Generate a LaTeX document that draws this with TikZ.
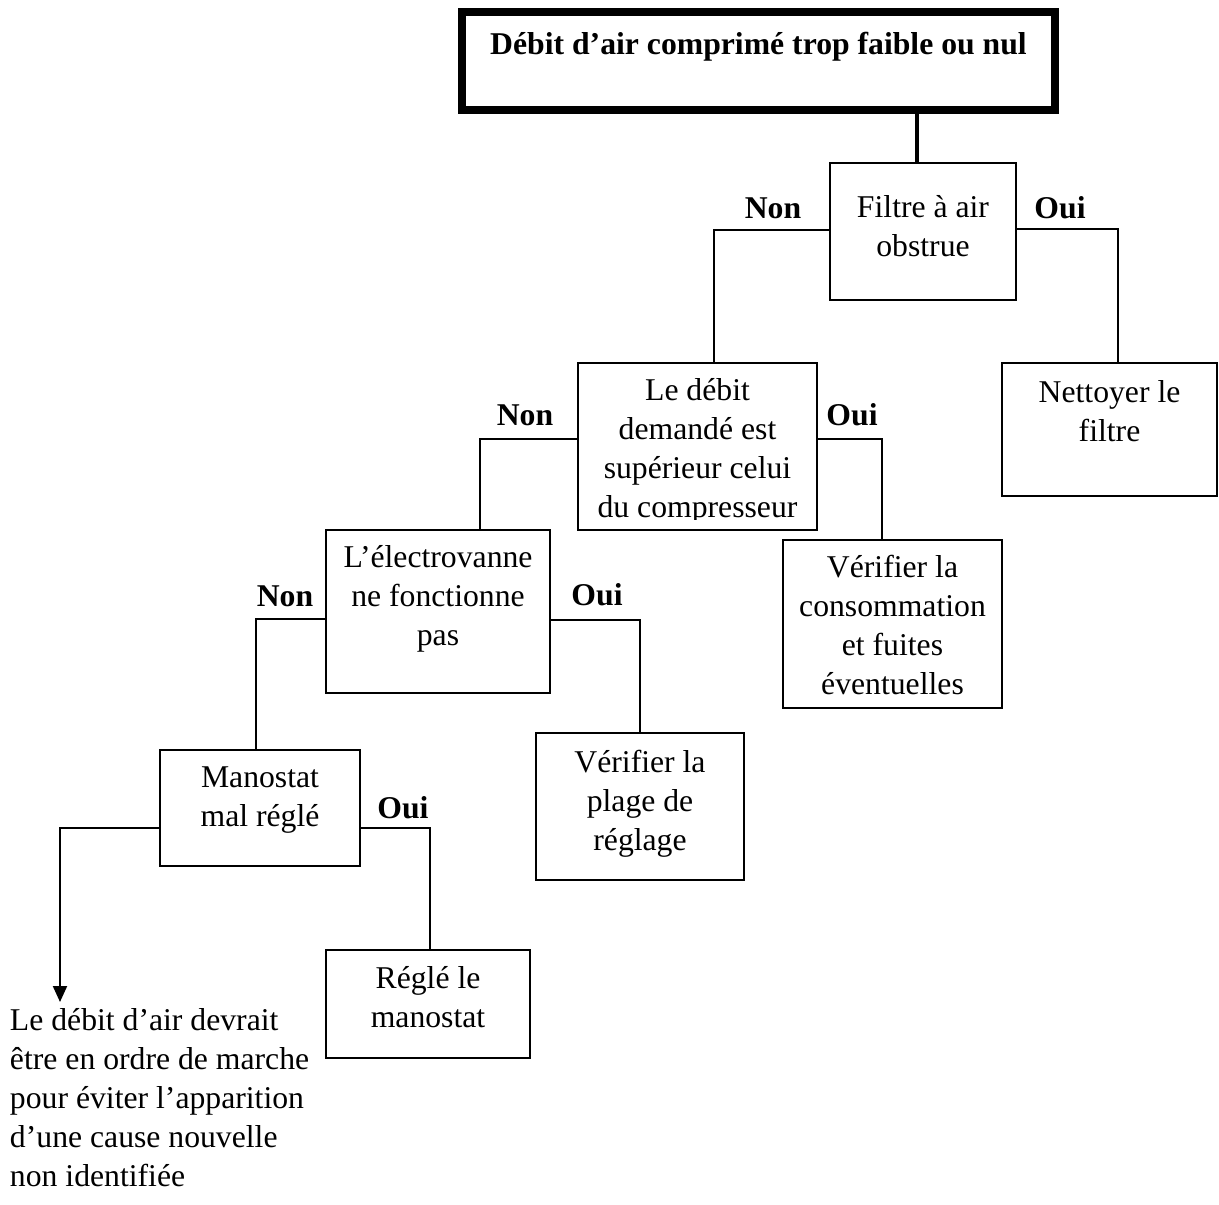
\documentclass[tikz,border=0pt]{standalone}
\usepackage{fontspec}
\setmainfont{Liberation Serif}
\usetikzlibrary{arrows.meta}
\newcommand{\boxtxt}[4]{\parbox[t][\dimexpr#2pt/2\relax][t]{\dimexpr#1pt/2\relax}{\centering\rule{0pt}{\dimexpr#3pt/2\relax}#4\par}}
\tikzset{
  every node/.style={font=\fontsize{15.85pt}{19.5pt}\selectfont},
  box/.style={draw, line width=1pt, inner sep=0pt, outer sep=0pt, anchor=north west},
  plain/.style={inner sep=0pt, outer sep=0pt},
  lbl/.style={inner sep=0pt, anchor=base, font=\fontsize{15.85pt}{19.5pt}\selectfont\bfseries},
  lnk/.style={line width=1pt},
  toplnk/.style={line width=2pt}
}
\begin{document}
\begin{tikzpicture}[x=0.5pt,y=-0.5pt]
\useasboundingbox (0,0) rectangle (1219,1204);
% boxes
\node[box, line width=4pt] (title) at (462,12) {\boxtxt{593}{98}{43}{\textbf{Débit d’air comprimé trop faible ou nul}}};
\node[box] (filtre) at (830,163) {\boxtxt{186}{137}{54}{Filtre à air\\obstrue}};
\node[box] (nettoyer) at (1002,363) {\boxtxt{215}{133}{39}{Nettoyer le\\filtre}};
\node[box] (debit) at (578,363) {\boxtxt{239}{167}{0}{}};
\begin{scope}
  \clip (570,363) rectangle (825,519.5);
  \node[plain, anchor=north west] (debittxt) at (578,363) {\boxtxt{239}{167}{37}{Le débit\\demandé est\\supérieur celui\\du compresseur}};
\end{scope}
\node[box] (electro) at (326,530) {\boxtxt{224}{163}{37}{L’électrovanne\\ne fonctionne\\pas}};
\node[box] (cons) at (783,540) {\boxtxt{219}{168}{37}{Vérifier la\\consommation\\et fuites\\éventuelles}};
\node[box] (plage) at (536,733) {\boxtxt{208}{147}{39}{Vérifier la\\plage de\\réglage}};
\node[box] (manostat) at (160,750) {\boxtxt{200}{116}{37}{Manostat\\mal réglé}};
\node[box] (regle) at (326,950) {\boxtxt{204}{108}{38}{Réglé le\\manostat}};
\node[plain, anchor=base west] (fin) at (10,1030) {\parbox[t]{170pt}{\raggedright Le débit d’air devrait\\être en ordre de marche\\pour éviter l’apparition\\d’une cause nouvelle\\non identifiée}};
% labels
\node[lbl] (non1) at (773,218) {Non};
\node[lbl] (oui1) at (1060,218) {Oui};
\node[lbl] (non2) at (525,425) {Non};
\node[lbl] (oui2) at (852,425) {Oui};
\node[lbl] (non3) at (285,606) {Non};
\node[lbl] (oui3) at (597,605) {Oui};
\node[lbl] (oui4) at (403,818) {Oui};
% elbows
\coordinate (k1) at (917,0);
\coordinate (k2) at (714,230);
\coordinate (k3) at (1118,229);
\coordinate (k4) at (480,439);
\coordinate (k5) at (882,439);
\coordinate (k6) at (256,619);
\coordinate (k7) at (640,620);
\coordinate (k8) at (60,828);
\coordinate (k9) at (430,828);
\coordinate (tip) at (60,1002);
% connectors
\draw[toplnk] (title.south -| k1) -- (filtre.north -| k1);
\draw[lnk] (filtre.west |- k2) -- (k2) -- (k2 |- debit.north);
\draw[lnk] (filtre.east |- k3) -- (k3) -- (k3 |- nettoyer.north);
\draw[lnk] (debit.west |- k4) -- (k4) -- (k4 |- electro.north);
\draw[lnk] (debit.east |- k5) -- (k5) -- (k5 |- cons.north);
\draw[lnk] (electro.west |- k6) -- (k6) -- (k6 |- manostat.north);
\draw[lnk] (electro.east |- k7) -- (k7) -- (k7 |- plage.north);
\draw[lnk, -{Triangle[width=7pt,length=8pt]}] (manostat.west |- k8) -- (k8) -- (tip);
\draw[lnk] (manostat.east |- k9) -- (k9) -- (k9 |- regle.north);
\end{tikzpicture}
\end{document}
